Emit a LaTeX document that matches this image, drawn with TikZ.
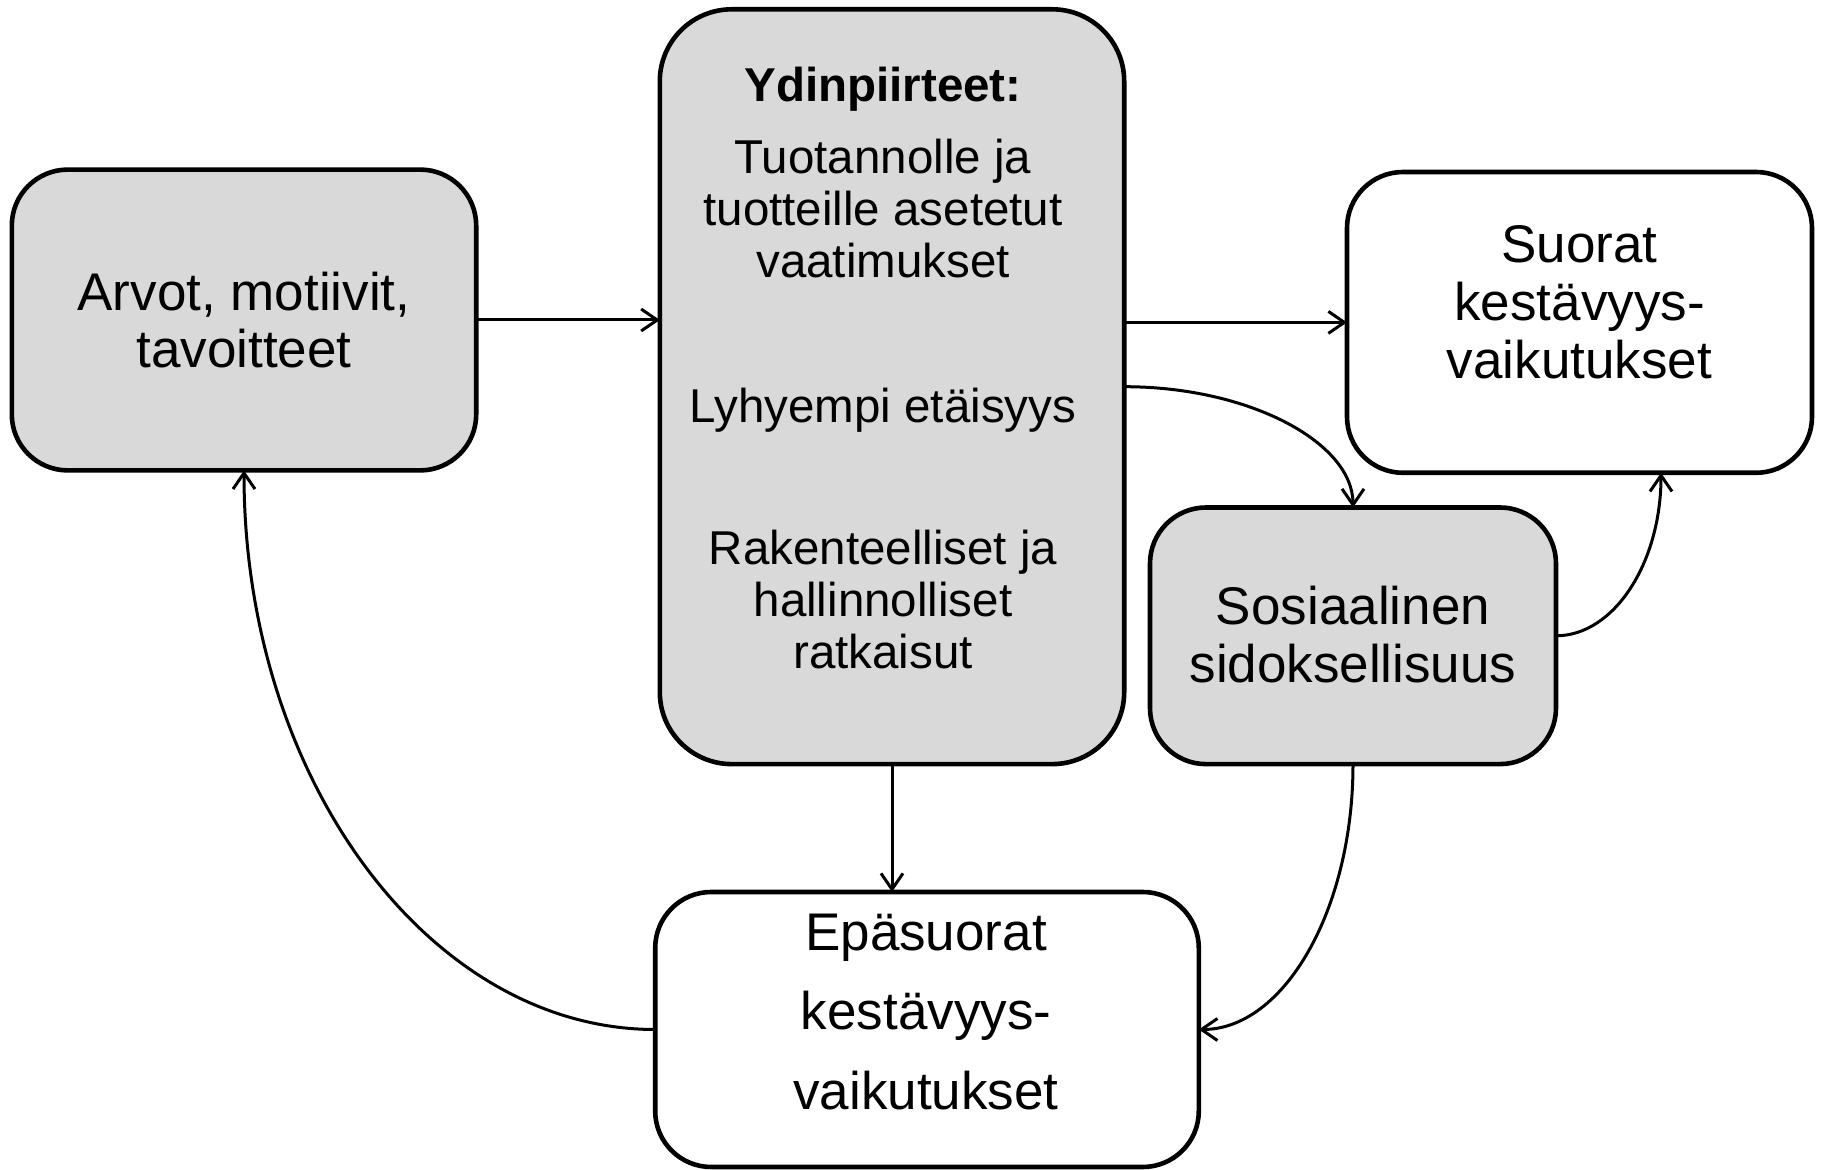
\documentclass[tikz,border=0pt]{standalone}
\usepackage{fontspec}
\setmainfont{Liberation Sans}
\usetikzlibrary{arrows.meta,calc}
\definecolor{boxgray}{HTML}{D9D9D9}
\tikzset{
  boxbase/.style={draw=black, line width=2.3pt, rounded corners=28pt, inner sep=0pt, outer sep=0pt},
  boxg/.style={boxbase, fill=boxgray},
  boxw/.style={boxbase, fill=white},
  bigtxt/.style={align=center, inner sep=0pt, font=\fontsize{26.5}{29}\selectfont},
  midtxt/.style={align=center, inner sep=0pt, font=\fontsize{23.75}{26}\selectfont},
  conn/.style={line width=1.5pt, -{Straight Barb[length=8pt,width=11pt]}}
}
\begin{document}
\begin{tikzpicture}[x=0.5pt,y=-0.5pt]
\useasboundingbox[fill=white] (0,0) rectangle (1821,1170);
% boxes
\node[boxg, minimum width=232.2pt, minimum height=150.4pt] (arvot) at (244,320) {};
\node[boxg, rounded corners=36pt, minimum width=232.2pt, minimum height=377.4pt] (core) at (892,386.7) {};
\node[boxw, minimum width=232.5pt, minimum height=150.4pt] (suorat) at (1579.5,322.4) {};
\node[boxg, minimum width=203pt, minimum height=128.3pt] (sos) at (1353,635.8) {};
\node[boxw, minimum width=271.8pt, minimum height=137.5pt] (epa) at (927,1029.5) {};
% texts
\node[bigtxt, font=\fontsize{26.5}{28.5}\selectfont] (tarvot) at (244,320) {Arvot, motiivit,\\tavoitteet};
\node[midtxt, font=\fontsize{23.75}{26}\selectfont\bfseries] (tydin) at (883,89) {Ydinpiirteet:};
\node[midtxt] (ttuot) at (883,209) {Tuotannolle ja\\tuotteille asetetut\\vaatimukset};
\node[midtxt] (tlyh) at (883,410) {Lyhyempi etäisyys};
\node[midtxt] (trak) at (883,600) {Rakenteelliset ja\\hallinnolliset\\ratkaisut};
\node[bigtxt] (tsuo) at (1579.5,302) {Suorat\\kestävyys-\\vaikutukset};
\node[bigtxt] (tsos) at (1353,635) {Sosiaalinen\\sidoksellisuus};
\node[bigtxt, font=\fontsize{26.5}{39.75}\selectfont] (tepa) at (926,1012) {Epäsuorat\\kestävyys-\\vaikutukset};
% connectors
\draw[conn] (arvot.east) -- (arvot.east -| core.west);
\draw[conn] (core.east |- suorat.west) -- (suorat.west);
\draw[conn] (core.east) .. controls +(125,0) and +(0,-65) .. (sos.north);
\draw[conn] (sos.east) .. controls +(58,0) and +(0,90) .. ($(suorat.south)+(81.5,0)$);
\draw[conn] (sos.south) .. controls +(0,146) and +(85,0) .. (epa.east);
\draw[conn] (core.south) -- (core.south |- epa.north);
\draw[conn] (epa.west) .. controls +(-226,0) and +(0,308) .. (arvot.south);
\end{tikzpicture}
\end{document}
